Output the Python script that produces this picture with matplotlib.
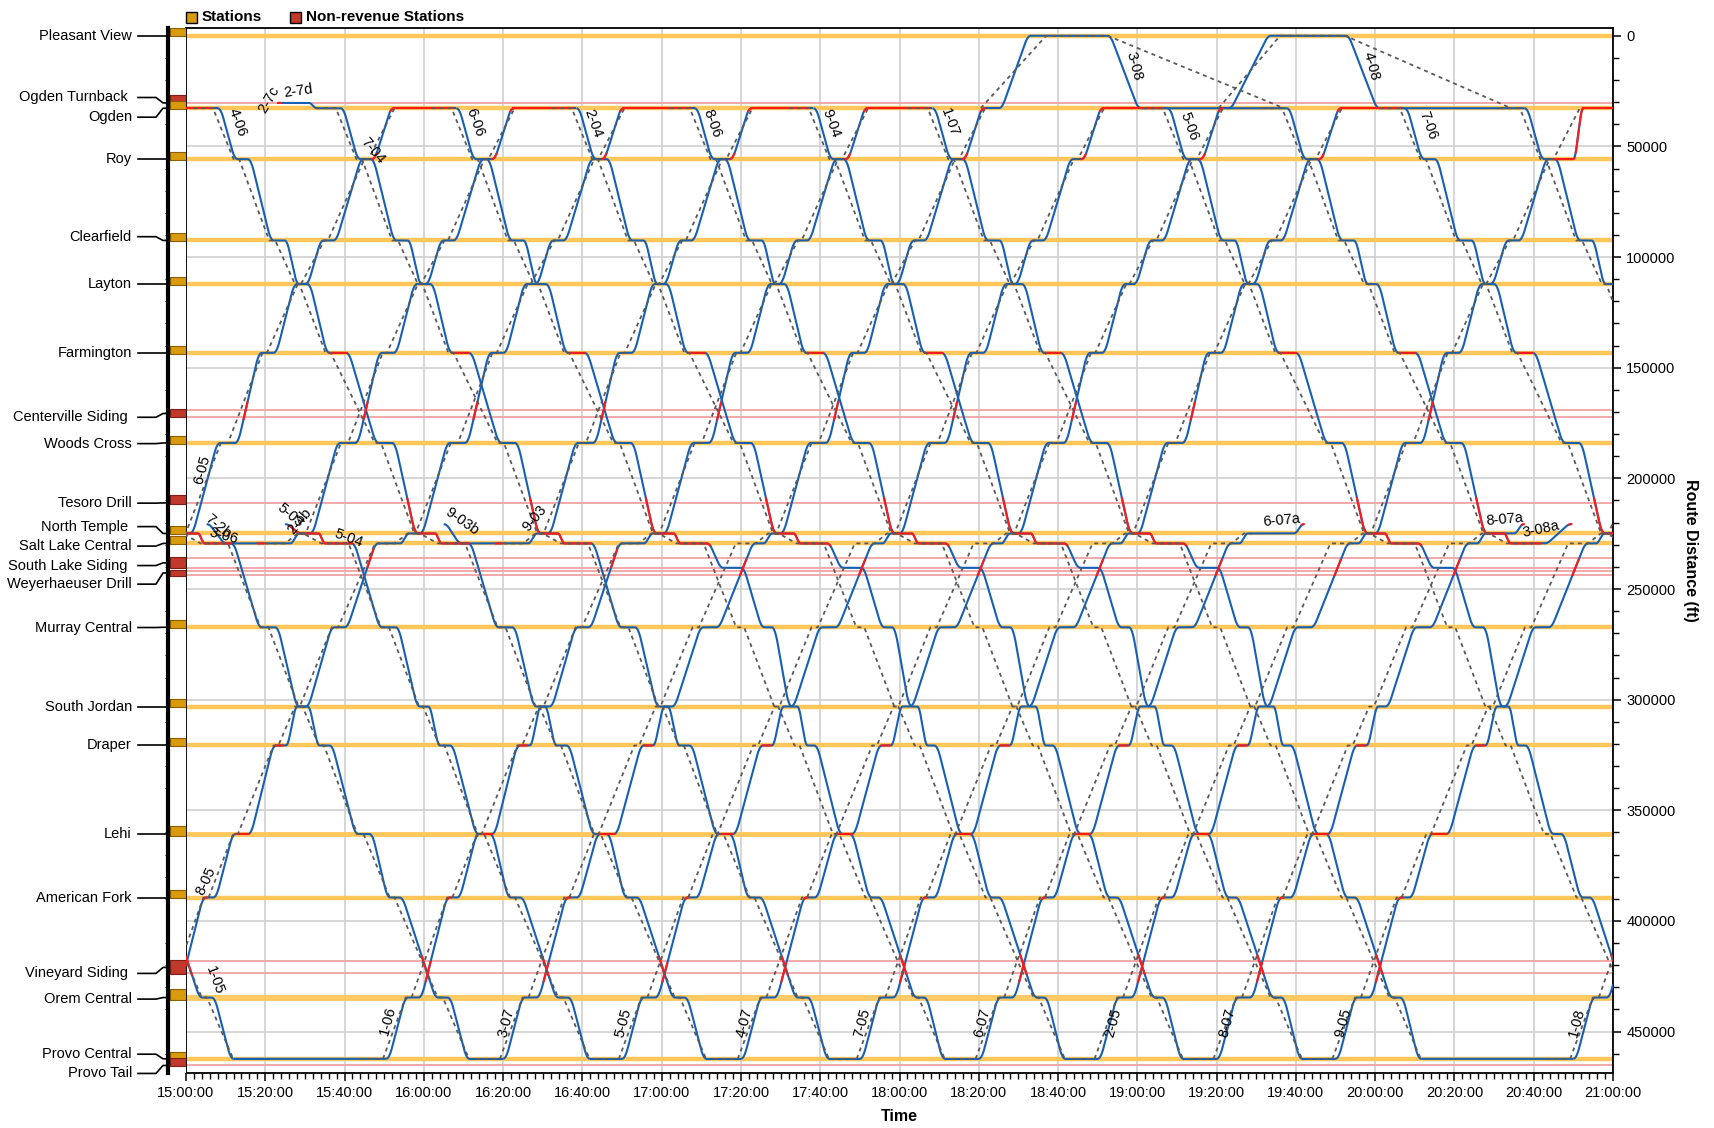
import numpy as np
import matplotlib
matplotlib.use("Agg")
import matplotlib.pyplot as plt
from matplotlib.patches import Rectangle
from matplotlib.ticker import MultipleLocator, FuncFormatter
from matplotlib.transforms import blended_transform_factory

plt.rcParams['font.family'] = ['Liberation Sans', 'DejaVu Sans']

# ---------------- stations (route distance, ft) ----------------
station_names = ["Pleasant View", "Ogden Turnback ", "Ogden", "Roy", "Clearfield", "Layton",
                 "Farmington", "Centerville Siding ", "Woods Cross", "Tesoro Drill",
                 "North Temple ", "Salt Lake Central", "South Lake Siding ", "Weyerhaeuser Drill",
                 "Murray Central", "South Jordan", "Draper", "Lehi", "American Fork",
                 "Vineyard Siding ", "Orem Central", "Provo Central", "Provo Tail"]
station_line_a = [0, 30350, 32750, 55750, 92500, 112200, 143300, 169300, 184000, 211100,
                  224900, 229400, 236000, 241800, 267300, 303100, 320700, 360300, 389400,
                  418300, 434000, 462300, 465300]
station_line_b = [0, 30350, 32750, 55750, 92500, 112200, 143300, 172100, 184000, 211100,
                  224900, 229400, 240400, 243700, 267300, 303100, 320700, 361100, 389400,
                  423700, 435200, 462300, 465300]
station_label_ft = [0, 27900, 36800, 55750, 90800, 112200, 143300, 172400, 184300, 211200,
                    221800, 230600, 239400, 247800, 267400, 303100, 320700, 360700, 389400,
                    423700, 435300, 460200, 468900]
station_revenue = [1, 0, 1, 1, 1, 1, 1, 0, 1, 0, 1, 1, 0, 0, 1, 1, 1, 1, 1, 0, 1, 1, 0]

pos = {n.strip(): (a + b) / 2 for n, a, b in zip(station_names, station_line_a, station_line_b)}
pos['South Lake'] = 240400  # passing loop used for meets

# ---------------- running profiles (minutes after origin departure) ----------------
sb_stops = ["Ogden", "Roy", "Clearfield", "Layton", "Farmington", "Woods Cross", "North Temple",
            "Salt Lake Central", "Murray Central", "South Jordan", "Draper", "Lehi",
            "American Fork", "Orem Central", "Provo Central"]
sb_arr = [0.0, 5.0, 14.1, 20.5, 28.2, 40.6, 50.5, 56.5, 70.9, 80.4, 85.5, 95.2, 103.3, 115.4, 123.3]
sb_dep = [0.0, 7.6, 16.9, 22.6, 32.4, 44.0, 54.8, 63.2, 74.3, 82.5, 88.0, 98.1, 105.7, 117.8, 123.3]
sb_sched_arr = [-1.2, 4.0, 13.0, 19.5, 27.2, 39.6, 49.6, 55.5, 70.6, 80.2, 85.3, 95.0, 103.2, 115.3, 123.2]
sb_sched_dep = [-1.2, 5.4, 14.5, 20.6, 28.5, 41.2, 51.0, 62.4, 72.6, 81.2, 86.6, 96.6, 104.4, 116.6, 123.2]
sb_red = [(28.2, 32.4), (47.8, 63.2), (111.3, 112.8)]

# later southbounds wait in the South Lake loop for the northbound
sb2_stops = sb_stops[:8] + ['South Lake'] + sb_stops[8:]
sb2_arr = [0.0, 5.0, 14.1, 20.5, 28.2, 40.6, 50.5, 56.5, 67.3, 77.7, 84.6, 88.6, 97.4, 104.8, 116.2, 123.3]
sb2_dep = [0.0, 7.6, 16.9, 22.6, 32.4, 44.0, 54.8, 63.2, 71.8, 79.6, 86.0, 90.3, 99.3, 106.5, 118.0, 123.3]
sb2_red = [(28.2, 32.4), (47.8, 64.0), (112.0, 113.5)]

nb_stops = sb_stops[::-1]
nb_arr = [0.0, 5.5, 16.0, 23.5, 33.7, 39.1, 48.4, 59.5, 67.3, 77.6, 88.1, 97.0, 103.7, 113.8, 121.4]
nb_dep = [0.0, 8.2, 17.9, 26.7, 36.2, 41.2, 51.0, 65.0, 70.0, 81.4, 91.1, 99.1, 106.2, 115.9, 121.4]
nb_sched_arr = [-0.8, 4.9, 15.4, 22.9, 33.1, 38.5, 47.8, 58.7, 66.9, 77.8, 88.3, 97.2, 103.9, 114.0, 121.6]
nb_sched_dep = [-0.8, 6.4, 16.7, 24.1, 34.3, 39.7, 49.4, 63.7, 68.9, 79.6, 89.4, 98.0, 104.8, 115.0, 121.6]
nb_red = [(10.0, 11.2), (15.4, 16.2), (23.5, 26.7), (33.4, 35.4), (56.8, 58.3),
          (83.5, 84.5), (115.9, 117.0), (120.6, 121.4)]

# later northbounds lose time south of Salt Lake
nb2_arr = [0.0, 5.5, 16.5, 24.5, 35.5, 40.8, 50.5, 63.7, 67.9, 77.6, 88.1, 97.0, 103.7, 113.8, 121.4]
nb2_dep = [0.0, 8.4, 18.6, 28.0, 37.8, 42.6, 53.8, 65.7, 70.0, 81.4, 91.1, 99.1, 106.2, 115.9, 121.4]
nb2_red = [(10.2, 11.4), (16.0, 16.8), (24.5, 28.0), (35.5, 37.5), (59.8, 61.3),
           (83.5, 84.5), (115.9, 117.0), (120.6, 121.4)]

# train departures, minutes after 15:00
sb_base = [-111.3, -51.8, -21.4, 8.0, 39.0, 68.2, 98.5, 128.3, 158.3, 188.3, 247.6, 277.7, 307.4, 337.7]
nb_base = [-69.0, -38.7, -11.0, 21.3, 50.5, 80.0, 110.0, 140.0, 170.0, 200.0, 230.0, 260.0, 290.0, 350.0]

# layovers at Ogden: arrival, departure, red until
ogden_arr = [-10.0, 52.4, 82.4, 110.4, 142.7, 171.9, 201.3, 231.4, 240.9, 260.1, 291.4, 301.1, 352.5]
ogden_dep = [8.0, 68.2, 98.5, 128.3, 158.3, 188.3, 205.1, 247.6, 277.7, 263.0, 307.4, 337.7, 370.0]
ogden_red = [6.8, 67.0, 97.3, 127.1, 157.1, 187.1, 201.3, 246.4, 240.9, 260.1, 306.2, 301.1, 370.0]

# Pleasant View shuttles: Ogden dep, PV arr, PV dep, Ogden arr
pv_ogden_dep = [205.1, 263.0]
pv_arr = [213.1, 273.7]
pv_dep = [232.5, 292.6]
pv_ogden_arr = [240.9, 301.1]
pv_sched = [(200.5, 217.0, 232.5, 277.0), (260.5, 276.0, 292.4, 334.3)]

YARD = 220700

# trip labels
label_text = ['2-7c', '2-7d', '4-06', '7-04', '6-06', '2-04', '8-06', '9-04', '1-07', '3-08', '5-06', '4-08', '7-06',
              '6-05', '7-2b', '3-06', '5-03', '2-4b', '5-04', '9-03b', '9-03', '6-07a', '8-07a', '3-08a',
              '8-05', '1-05', '1-06', '3-07', '5-05', '4-07', '7-05', '6-07', '2-05', '8-07', '9-05', '1-08']
label_t = [20.8, 28.4, 13.0, 47.0, 72.8, 102.7, 132.7, 162.8, 192.6, 239.2, 253.1, 299.0, 313.3,
           4.0, 8.2, 9.6, 26.2, 28.6, 41.0, 69.6, 88.1, 276.3, 332.7, 341.9,
           5.0, 7.2, 50.9, 80.8, 110.3, 141.0, 170.5, 200.8, 233.9, 262.6, 291.9, 350.8]
label_ft = [28800, 24900, 39100, 51800, 39100, 39800, 39500, 39500, 39300, 13900, 41200, 13900, 40500,
            196000, 221500, 226000, 216800, 219500, 227000, 219500, 218000, 219200, 218500, 223000,
            382100, 426800, 445000, 445800, 445800, 445800, 445800, 445800, 445800, 445800, 445800, 445800]
label_rot = [60, 8, -70, -50, -70, -70, -70, -70, -70, -75, -70, -75, -70,
             75, -40, -15, -40, 50, -20, -35, 50, 5, 5, 12,
             65, -70, 75, 75, 75, 75, 75, 75, 75, 75, 75, 75]

BLUE = '#1660b4'
RED = '#ff1a1a'
DASH = '#5a5a5a'


def run_curve(t0, t1, p0, p1, n=80):
    # trapezoidal speed profile: smooth start and stop
    T = max(t1 - t0, 1e-3)
    a = min(1.5, T * 0.33)
    v = 1.0 / (T - a)
    tau = np.linspace(0, T, n)
    s = np.where(tau < a, 0.5 * v / a * tau ** 2,
                 np.where(tau <= T - a, 0.5 * v * a + v * (tau - a),
                          1 - 0.5 * v / a * (T - tau) ** 2))
    return t0 + tau, p0 + (p1 - p0) * s


def build_path(events):
    ts, ps = [], []
    for i, (ft, arr, dep) in enumerate(events):
        if i > 0:
            pft, parr, pdep = events[i - 1]
            tt, pp = run_curve(pdep, arr, pft, ft)
            ts.append(tt)
            ps.append(pp)
        if dep > arr:
            ts.append(np.array([arr, dep]))
            ps.append(np.array([ft, ft]))
    return np.concatenate(ts), np.concatenate(ps)


def events(stops, arr, dep, base, first=0, last=None):
    last = len(stops) - 1 if last is None else last
    return [(pos[stops[i]], base + arr[i], base + dep[i]) for i in range(first, last + 1)]


def draw_actual(ax, ev, red_windows):
    t, p = build_path(ev)
    tg = np.arange(t[0], t[-1] + 1e-6, 0.02)
    pg = np.interp(tg, t, p)
    ax.plot(tg, pg, color=BLUE, lw=1.5, zorder=3, solid_capstyle='butt')
    mask = np.zeros_like(tg, dtype=bool)
    for a, b in red_windows:
        mask |= (tg >= a) & (tg <= b)
    if mask.any():
        ax.plot(tg, np.where(mask, pg, np.nan), color=RED, lw=1.5, zorder=4)


def draw_sched(ax, ev, lead=0.0):
    t, p = [], []
    if lead > 0:
        t.append(ev[0][1] - lead)
        p.append(ev[0][0])
    for ft, a, d in ev:
        t += [a, d]
        p += [ft, ft]
    ax.plot(t, p, color=DASH, lw=1.3, ls=(0, (2.2, 2.2)), zorder=5)


W, H = 1715, 1128
fig = plt.figure(figsize=(W / 100, H / 100), dpi=100)
ax = fig.add_axes([186 / W, 1 - 1073 / H, (1613 - 186) / W, (1073 - 28) / H])
strip = fig.add_axes([168 / W, 1 - 1073 / H, 18 / W, (1073 - 28) / H], sharey=ax)

ax.set_xlim(0, 360)
ax.set_ylim(468700, -3500)

# station lines
for a, b, rev in zip(station_line_a, station_line_b, station_revenue):
    if rev:
        if b - a > 100:
            ax.axhline(a, color='#ffc65a', lw=2.0, zorder=1)
            ax.axhline(b, color='#ffc65a', lw=2.0, zorder=1)
        else:
            ax.axhline(a, color='#ffc65a', lw=3.2, zorder=1)
    else:
        for y in sorted(set([a, b])):
            ax.axhline(y, color='#f0a3a3', lw=1.3, zorder=1)

# southbound trips
for base in sb_base:
    if base >= 68.2:
        stops, arr, dep, rw = sb2_stops, sb2_arr, sb2_dep, sb2_red
    else:
        stops, arr, dep, rw = sb_stops, sb_arr, sb_dep, sb_red
    red = [(base + a, base + b) for a, b in rw]
    if base == -21.4:  # from the yard north of North Temple
        ev = [(YARD, 25.0, 25.0)] + events(stops, arr, dep, base, 6)
        sev = events(sb_stops, sb_sched_arr, sb_sched_dep, base, 6)
    elif base == 39.0:  # out of Ogden Turnback
        ev = [(pos['Ogden Turnback'], 23.2, 31.0), (pos['Ogden'], 33.0, 39.0)] + \
            events(stops, arr, dep, base, 1)
        red.append((23.2, 24.0))
        sev = events(sb_stops, sb_sched_arr, sb_sched_dep, base)
    elif base == 277.7:  # terminates at Salt Lake Central, back to yard
        ev = events(stops, arr, dep, base, 0, 7)
        ev[-1] = (ev[-1][0], ev[-1][1], 342.7)
        ev.append((YARD, 349.5, 349.5))
        red.append((349.0, 349.5))
        sev = events(sb_stops, sb_sched_arr, sb_sched_dep, base, 0, 7)
    else:
        ev = events(stops, arr, dep, base)
        sev = events(sb_stops, sb_sched_arr, sb_sched_dep, base)
    draw_actual(ax, ev, red)
    draw_sched(ax, sev, lead=5.0 if sev[0][0] == pos['Ogden'] else 0.0)

# northbound trips
nb_from_yard = {-38.7: (5.2, 10.3), 21.3: (65.0, 69.6)}
nb_to_yard = {200.0: (279.5, 282.0), 260.0: (335.0, 337.5)}
for base in nb_base:
    if base >= 80.0:
        arr, dep, rw = nb2_arr, nb2_dep, nb2_red
    else:
        arr, dep, rw = nb_arr, nb_dep, nb_red
    red = [(base + a, base + b) for a, b in rw]
    if base in nb_from_yard:
        ty, tslc = nb_from_yard[base]
        ev = events(nb_stops, arr, dep, base, 7)
        ev[0] = (ev[0][0], tslc, ev[0][2])
        ev = [(YARD, ty, ty)] + ev
        sev = events(nb_stops, nb_sched_arr, nb_sched_dep, base, 7)
    elif base in nb_to_yard:
        tdep, tyard = nb_to_yard[base]
        ev = events(nb_stops, arr, dep, base, 0, 8)
        ev[-1] = (ev[-1][0], ev[-1][1], tdep)
        ev.append((YARD, tyard, tyard))
        red.append((tyard - 0.5, tyard))
        sev = events(nb_stops, nb_sched_arr, nb_sched_dep, base, 0, 8)
    elif base == 230.0:  # held at Roy before reaching Ogden
        ev = events(nb_stops, arr, dep, base)
        ev[-2] = (ev[-2][0], ev[-2][1], 350.0)
        ev[-1] = (ev[-1][0], 352.5, 352.5)
        red += [(344.5, 350.2), (351.5, 352.5)]
        sev = events(nb_stops, nb_sched_arr, nb_sched_dep, base)
    else:
        ev = events(nb_stops, arr, dep, base)
        sev = events(nb_stops, nb_sched_arr, nb_sched_dep, base)
    draw_actual(ax, ev, red)
    draw_sched(ax, sev, lead=6.0 if sev[0][0] == pos['Provo Central'] else 0.0)

# layovers at Ogden
for a, d, r in zip(ogden_arr, ogden_dep, ogden_red):
    draw_actual(ax, [(pos['Ogden'], a, d)], [(a, r)])

# layovers at Provo (southbound arrival -> next northbound departure)
provo_in = [b + sb_arr[-1] for b in sb_base if b != 277.7]
for d in nb_base:
    prev = [t for t in provo_in if t < d]
    if prev and d - max(prev) < 45:
        draw_actual(ax, [(pos['Provo Central'], max(prev), d)], [])

# Pleasant View shuttles
for od, pa, pd, oa, sc in zip(pv_ogden_dep, pv_arr, pv_dep, pv_ogden_arr, pv_sched):
    draw_actual(ax, [(pos['Ogden'], od, od), (0, pa, pd), (pos['Ogden'], oa, oa)], [])
    draw_sched(ax, [(pos['Ogden'], sc[0], sc[0]), (0, sc[1], sc[2]), (pos['Ogden'], sc[3], sc[3])])

# trip labels
for s, t, f, r in zip(label_text, label_t, label_ft, label_rot):
    ax.text(t, f, s, rotation=r, ha='center', va='center', fontsize=10.5, zorder=6,
            rotation_mode='anchor')

# axes styling
ax.grid(which='major', color='#d0d0d0', lw=1.2, zorder=0)
ax.set_axisbelow(True)
ax.xaxis.set_major_locator(MultipleLocator(20))
ax.xaxis.set_minor_locator(MultipleLocator(2))
ax.xaxis.set_major_formatter(FuncFormatter(
    lambda m, _: f"{15 + int(m) // 60:02d}:{int(m) % 60:02d}:00"))
ax.yaxis.tick_right()
ax.yaxis.set_label_position('right')
ax.yaxis.set_major_locator(MultipleLocator(50000))
ax.yaxis.set_minor_locator(MultipleLocator(10000))
ax.yaxis.set_major_formatter(FuncFormatter(lambda v, _: f"{int(v)}"))
ax.tick_params(which='major', length=6, width=1.1, labelsize=10.5)
ax.tick_params(which='minor', length=4, width=1.0)
for sp in ax.spines.values():
    sp.set_linewidth(1.3)
ax.set_xlabel('Time', fontsize=11.5, fontweight='bold', labelpad=6)
ax.set_ylabel('Route Distance (ft)', fontsize=11.5, fontweight='bold', rotation=270, labelpad=16)

# station strip on the left
strip.set_xlim(0, 1)
strip.set_xticks([])
strip.tick_params(left=False, right=False, labelleft=False, labelright=False)
for k in ['top', 'right', 'bottom']:
    strip.spines[k].set_visible(False)
strip.spines['left'].set_linewidth(3.0)
for a, b, rev in zip(station_line_a, station_line_b, station_revenue):
    if rev:
        lo, hi, fc, ec = a - 3300, b + 300, '#d99a0c', '#8a6000'
    elif b - a > 100:
        lo, hi, fc, ec = a - 500, b + 300, '#c0392b', '#7d1f14'
    else:
        lo, hi, fc, ec = a - 3500, b + 300, '#c0392b', '#7d1f14'
    strip.add_patch(Rectangle((0.12, lo), 0.86, hi - lo, facecolor=fc, edgecolor=ec, lw=0.8))

trans = blended_transform_factory(fig.transFigure, ax.transData)
for name, a, b, lf in zip(station_names, station_line_a, station_line_b, station_label_ft):
    sy = (a + b) / 2
    ax.plot([138 / W, 156 / W, 163 / W, 168 / W], [lf, lf, sy, sy], color='black', lw=1.2,
            transform=trans, clip_on=False, zorder=6)
    ax.text(132 / W, lf, name, transform=trans, ha='right', va='center', fontsize=10.5)

# legend
for x0, fc, txt in [(186, '#d99a0c', 'Stations'), (290, '#c0392b', 'Non-revenue Stations')]:
    fig.patches.append(Rectangle((x0 / W, 1 - 23 / H), 11 / W, 11 / H, transform=fig.transFigure,
                                 facecolor=fc, edgecolor='black', lw=1.0))
    fig.text((x0 + 16) / W, 1 - 17 / H, txt, fontsize=11, fontweight='bold', va='center')

fig.savefig('out.png', dpi=100)
